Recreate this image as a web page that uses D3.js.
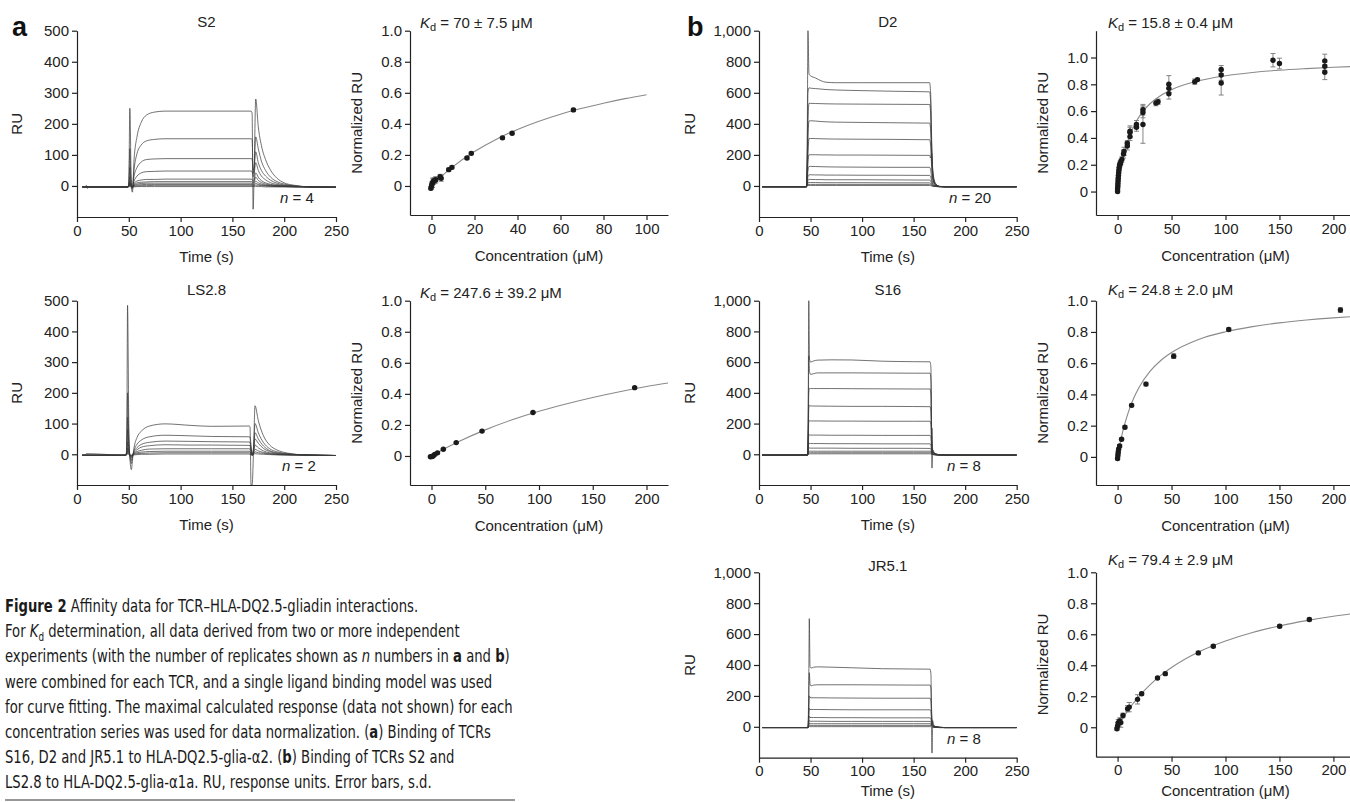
<!DOCTYPE html>
<html><head><meta charset="utf-8">
<script src="https://cdn.jsdelivr.net/npm/d3@7"></script>
<style>
body{margin:0;background:#fff;}
svg{display:block;font-family:"Liberation Sans",Arial,Helvetica,sans-serif;}
.axis .domain,.axis line{stroke:#222;stroke-width:1.2;}
.axis text{font-size:15px;fill:#222;font-family:"Liberation Sans",Arial,sans-serif;}
</style></head><body>
<svg id="fig" width="1350" height="802"></svg>
<script>
// ---------------- DATA ----------------
// Sensorgram panels: time grid (s) and RU traces
const timesS2 = [5, 8, 9, 10, 11, 49, 50, 51, 52.5, 53.5, 55, 58, 62, 67, 75, 85, 168, 169, 170, 171, 172.5, 175, 178, 182, 187, 193, 200, 210, 225, 250];
const tracesS2 = [
  [-3,-3,2,-8,-3,-3,10,250,-5,-20,80,160,205,228,238,241,241,235,-75,40,280,190,130,85,50,25,10,2,-3,-4],
  [-3,-3,-3,-3,-3,-3,0,120,-3,-10,50,105,132,145,150,152,152,150,40,60,158,120,80,50,28,14,6,0,-3,-4],
  [-3,-3,-3,-3,-3,-3,0,60,0,-5,30,60,77,85,87,88,88,87,50,60,110,75,50,32,18,9,3,0,-3,-4],
  [-3,-3,-3,-3,-3,-3,0,30,0,-3,15,32,42,46,47,48,48,47,30,40,75,50,32,20,10,5,1,-1,-3,-4],
  [-3,-3,-3,-3,-3,-3,0,15,0,-3,8,16,19,21,21,22,22,21,15,20,42,28,17,10,5,2,0,-2,-3,-4],
  [-3,-3,-3,-3,-3,-3,0,10,0,-3,5,10,12,13,14,14,14,13,10,13,28,18,11,6,3,1,-1,-2,-3,-4],
  [-3,-3,-3,-3,-3,-3,0,6,0,-3,3,6,8,9,9,9,9,8,6,8,15,10,6,3,1,0,-1,-2,-3,-4],
  [-3,-3,-3,-3,-3,-3,-1,3,-1,-3,1,3,4,5,5,5,5,4,3,4,8,5,3,1,0,-1,-2,-3,-3,-4],
  [-3,-3,-3,-3,-3,-3,-2,0,-2,-3,-1,0,1,1,2,2,2,1,0,1,3,2,1,0,-1,-2,-2,-3,-3,-4],
  [-3,-3,-3,-3,-3,-3,-3,-2,-3,-4,-3,-2,-2,-2,-2,-2,-2,-2,-3,-2,-1,-2,-2,-3,-3,-3,-3,-3,-3,-4]
];

const timesLS = [5, 8, 9, 47, 48, 48.8, 50, 51, 52.5, 53.5, 55, 58, 62, 70, 85, 110, 130, 166, 167, 168, 169, 170.8, 171.8, 175, 180, 186, 193, 203, 220, 250];
const tracesLS = [
  [-3,-3,2,-3,20,485,100,-10,-50,-20,20,55,75,92,99,94,91,92,90,-100,-100,60,158,110,60,30,14,4,-2,-4],
  [-3,-3,-3,-3,10,200,50,-5,-30,-10,12,33,46,57,62,60,58,57,56,30,-5,40,100,70,38,18,8,2,-2,-4],
  [-3,-3,-3,-3,5,120,30,-3,-20,-6,8,22,32,39,43,42,41,40,39,20,0,28,70,50,27,12,5,1,-2,-4],
  [-3,-3,-3,-3,3,80,20,-3,-12,-4,5,15,23,28,31,30,30,29,28,15,0,20,50,36,19,9,3,0,-2,-4],
  [-3,-3,-3,-3,2,40,10,-3,-8,-3,3,9,13,17,18,18,18,18,17,9,-1,12,30,21,11,5,1,-1,-2,-4],
  [-3,-3,-3,-3,0,20,5,-3,-5,-3,1,5,7,9,10,10,10,10,9,5,-2,6,16,11,6,2,0,-1,-3,-4],
  [-3,-3,-3,-3,-1,10,2,-3,-4,-3,0,2,3,4,5,5,5,5,4,2,-2,3,8,5,3,1,-1,-2,-3,-4],
  [-3,-3,-3,-3,-2,3,0,-3,-3,-3,-2,-1,0,0,1,1,1,1,0,-1,-3,0,2,1,0,-1,-2,-3,-3,-4]
];

const timesD2 = [3, 46, 46.8, 47.5, 48.5, 50, 55, 60, 65, 75, 100, 130, 160, 165.5, 166.5, 167.5, 168.5, 170, 172, 175, 180, 250];
const tracesD2 = [
  [-5,-5,300,1000,720,710,695,678,668,665,665,665,665,665,600,300,110,40,10,-3,-5,-5],
  [-5,-5,200,600,632,630,627,624,621,618,614,610,607,606,540,250,90,30,8,-3,-5,-5],
  [-5,-5,150,400,532,532,531,530,529,528,527,526,525,525,470,210,75,25,6,-3,-5,-5],
  [-5,-5,100,300,418,420,418,415,413,411,409,407,405,405,360,170,60,20,5,-3,-5,-5],
  [-5,-5,80,200,305,306,305,304,303,302,301,300,298,298,260,120,45,15,4,-3,-5,-5],
  [-5,-5,50,150,200,201,201,200,200,199,199,198,197,197,180,210,100,15,3,-4,-5,-5],
  [-5,-5,30,100,125,126,125,124,123,122,121,120,120,120,105,55,20,6,1,-4,-5,-5],
  [-5,-5,20,60,72,72,71,71,70,70,69,69,68,68,60,30,12,3,0,-4,-5,-5],
  [-5,-5,10,35,42,42,41,41,40,40,40,39,38,38,33,16,6,1,-2,-4,-5,-5],
  [-5,-5,5,20,22,22,22,21,21,21,21,20,20,20,17,8,2,-1,-3,-4,-5,-5],
  [-5,-5,2,10,10,10,10,10,10,10,10,10,10,10,8,3,0,-2,-4,-5,-5,-5],
  [-5,-5,0,4,3,3,3,3,3,3,3,3,3,3,2,0,-2,-3,-4,-5,-5,-5]
];

const timesS16 = [3, 47, 47.8, 48.3, 49, 50, 53, 57, 70, 90, 120, 150, 166, 166.8, 167.3, 167.8, 168.5, 170, 172, 175, 180, 250];
const tracesS16 = [
  [-5,-5,400,1000,620,600,608,613,615,614,606,603,602,560,250,-90,30,10,2,-3,-5,-5],
  [-5,-5,200,640,540,520,525,530,530,530,529,528,528,480,220,70,25,8,1,-3,-5,-5],
  [-5,-5,150,400,430,428,428,428,428,427,426,425,425,390,180,60,20,6,1,-3,-5,-5],
  [-5,-5,100,300,318,315,314,314,313,312,312,311,310,280,130,170,20,5,0,-3,-5,-5],
  [-5,-5,80,220,218,217,217,217,216,216,215,215,215,195,90,35,12,3,-1,-4,-5,-5],
  [-5,-5,50,130,125,125,125,125,124,124,123,123,123,110,50,20,7,2,-2,-4,-5,-5],
  [-5,-5,30,75,70,70,70,70,69,69,68,68,68,60,28,11,4,0,-3,-4,-5,-5],
  [-5,-5,15,45,40,40,40,40,40,39,39,39,38,34,16,6,2,-1,-3,-4,-5,-5],
  [-5,-5,8,22,20,20,20,20,20,20,20,20,20,18,8,3,0,-2,-4,-5,-5,-5],
  [-5,-5,3,10,10,10,10,10,10,10,10,10,10,9,4,1,-1,-3,-4,-5,-5,-5],
  [-5,-5,0,3,3,3,3,3,3,3,3,3,3,2,0,-1,-2,-3,-4,-5,-5,-5]
];

const timesJR = [3, 47.5, 48.3, 48.8, 49.5, 50.5, 53, 57, 70, 90, 120, 150, 166, 166.8, 167.3, 167.8, 168.5, 170, 172, 175, 180, 250];
const tracesJR = [
  [-5,-5,300,700,390,380,386,388,386,382,376,374,373,340,150,50,20,6,1,-3,-5,-5],
  [-5,-5,150,350,280,265,270,272,272,272,271,270,270,245,110,35,12,4,0,-3,-5,-5],
  [-5,-5,100,200,190,188,188,188,187,186,185,185,185,165,75,25,9,3,0,-3,-5,-5],
  [-5,-5,60,120,112,112,112,112,111,110,110,110,110,100,45,15,5,1,-1,-4,-5,-5],
  [-5,-5,30,70,60,60,60,60,59,59,58,58,58,52,24,8,40,0,-2,-4,-5,-5],
  [-5,-5,20,40,36,36,36,36,35,35,35,35,35,31,14,5,1,-1,-3,-4,-5,-5],
  [-5,-5,10,22,20,20,20,20,20,20,20,20,20,18,8,3,0,-2,-4,-5,-5,-5],
  [-5,-5,5,10,9,9,9,9,9,9,9,9,9,8,4,1,-1,-3,-4,-5,-5,-5],
  [-5,-5,0,2,1,1,1,1,1,1,1,1,1,1,0,-170,-2,-3,-4,-5,-5,-5]
];

// Binding panels: [concentration µM, normalized RU, s.d.]
const pointsS2 = [[-0.3,-0.015,0.01],[0,0.0,0.02],[0.2,0.01,0.02],[0.5,0.02,0.03],[0.8,0.03,0.02],[1.5,0.035,0.02],[2,0.04,0.02],[4,0.06,0.015],[4.5,0.05,0.02],[8,0.105,0.01],[9.5,0.12,0.01],[16.5,0.18,0.01],[18.5,0.21,0.01],[33,0.31,0.01],[37.5,0.34,0.01],[66,0.49,0.01]];
const fitS2 = [[0,0],[5,0.0667],[10,0.125],[20,0.222],[30,0.3],[40,0.364],[50,0.417],[60,0.462],[70,0.5],[80,0.533],[90,0.5625],[100,0.588]];

const pointsLS = [[-1,-0.005,0.005],[0.5,-0.003,0.005],[1.5,0.0,0.005],[3,0.01,0.005],[5.6,0.02,0.005],[11,0.043,0.005],[23,0.086,0.005],[47,0.16,0.005],[94.4,0.28,0.005],[189,0.44,0.005]];
const fitLS = [[0,0],[10,0.039],[25,0.0917],[50,0.168],[75,0.233],[100,0.288],[125,0.335],[150,0.377],[175,0.414],[200,0.447],[220,0.47]];

const pointsD2 = [[0,0.0,0.01],[0,0.02,0.01],[0.2,0.04,0.01],[0.3,0.06,0.015],[0.5,0.08,0.02],[0.6,0.1,0.02],[0.8,0.12,0.02],[1,0.14,0.02],[1.2,0.16,0.02],[1.5,0.18,0.02],[2,0.2,0.02],[2.5,0.21,0.02],[3,0.22,0.02],[4,0.24,0.02],[5.5,0.28,0.03],[6,0.3,0.03],[9,0.34,0.03],[9,0.36,0.02],[11.5,0.41,0.03],[11.5,0.44,0.04],[11.5,0.45,0.04],[17.5,0.48,0.03],[17.5,0.5,0.03],[23.5,0.5,0.14],[23.5,0.59,0.04],[23.5,0.61,0.04],[35.5,0.66,0.02],[37.5,0.67,0.02],[47.5,0.73,0.04],[47.5,0.77,0.03],[47.5,0.8,0.065],[71.5,0.82,0.02],[74,0.835,0.01],[96,0.81,0.09],[96,0.87,0.04],[96,0.91,0.03],[144,0.98,0.05],[150,0.955,0.04],[192,0.89,0.055],[192,0.935,0.03],[192,0.975,0.05]];
const fitD2 = [[0,0],[1,0.0595],[2,0.112],[4,0.202],[6,0.275],[8,0.336],[10,0.388],[15,0.487],[20,0.559],[30,0.655],[40,0.717],[50,0.76],[75,0.826],[100,0.864],[125,0.888],[150,0.905],[175,0.917],[200,0.927],[220,0.933]];

const pointsS16 = [[0,-0.01,0.01],[0.3,0.01,0.01],[0.6,0.03,0.01],[1,0.05,0.01],[1.9,0.07,0.01],[3.7,0.113,0.01],[6.8,0.19,0.01],[13,0.33,0.01],[26.3,0.466,0.012],[52,0.645,0.015],[103,0.816,0.01],[206.5,0.94,0.015]];
const fitS16 = [[0,0],[2,0.0746],[4,0.139],[6,0.195],[10,0.287],[15,0.377],[20,0.446],[30,0.547],[40,0.617],[50,0.668],[75,0.752],[100,0.801],[125,0.834],[150,0.858],[175,0.876],[200,0.89],[220,0.899]];

const pointsJR = [[-0.6,-0.01,0.01],[0,0.01,0.02],[0.6,0.03,0.02],[1.9,0.04,0.02],[3,0.03,0.03],[5,0.076,0.015],[9.3,0.12,0.02],[10.8,0.13,0.03],[18.5,0.18,0.03],[22.3,0.216,0.01],[37,0.318,0.01],[44.2,0.346,0.01],[74.8,0.48,0.01],[88.7,0.523,0.01],[150.2,0.652,0.01],[177.7,0.695,0.01]];
const fitJR = [[0,0],[5,0.059],[10,0.112],[20,0.201],[30,0.274],[40,0.335],[50,0.386],[75,0.486],[100,0.557],[125,0.612],[150,0.654],[175,0.688],[200,0.716],[220,0.735]];

// Tick labels
const timeTicks = [0, 50, 100, 150, 200, 250];
const ruTicksSmall = [0, 100, 200, 300, 400, 500];
const ruTicksLarge = [0, 200, 400, 600, 800, 1000];
const normTicks = [0, 0.2, 0.4, 0.6, 0.8, 1.0];
const concTicksS2 = [0, 20, 40, 60, 80, 100];
const concTicks = [0, 50, 100, 150, 200];

const captionLines = [
  [["Figure 2", "b"], ["  Affinity data for TCR\u2013HLA-DQ2.5-gliadin interactions.", ""]],
  [["For ", ""], ["K", "i"], ["d", "sub"], [" determination, all data derived from two or more independent", ""]],
  [["experiments (with the number of replicates shown as ", ""], ["n", "i"], [" numbers in ", ""], ["a", "b"], [" and ", ""], ["b", "b"], [")", ""]],
  [["were combined for each TCR, and a single ligand binding model was used", ""]],
  [["for curve fitting. The maximal calculated response (data not shown) for each", ""]],
  [["concentration series was used for data normalization. (", ""], ["a", "b"], [") Binding of TCRs", ""]],
  [["S16, D2 and JR5.1 to HLA-DQ2.5-glia-\u03b12. (", ""], ["b", "b"], [") Binding of TCRs S2 and", ""]],
  [["LS2.8 to HLA-DQ2.5-glia-\u03b11a. RU, response units. Error bars, s.d.", ""]]
];

// ---------------- DRAWING ----------------
const svg = d3.select("#fig");
const FS = 15;
let clipId = 0;

function fmtNorm(d){ return d === 0 ? "0" : d3.format(".1f")(d); }

function styleAxis(g){
  g.attr("class","axis");
  g.selectAll("text").attr("fill","#222");
}

function sensorPanel(cfg, times, traces){
  const x = d3.scaleLinear().domain([0,250]).range([cfg.left, cfg.right]);
  const y = d3.scaleLinear().domain(cfg.yDomain).range([cfg.bottom, cfg.top]);
  const id = "clip" + (clipId++);
  svg.append("clipPath").attr("id", id).append("rect")
    .attr("x", cfg.left).attr("y", cfg.top - 1)
    .attr("width", cfg.right - cfg.left).attr("height", cfg.bottom - cfg.top + 1);
  const line = d3.line().x((d,i)=>x(times[i])).y(d=>y(d)).curve(d3.curveMonotoneX);
  const g = svg.append("g").attr("clip-path", `url(#${id})`);
  g.selectAll("path").data(traces).join("path")
    .attr("d", line).attr("fill","none")
    .attr("stroke","#3a3a3a").attr("stroke-width",0.85).attr("stroke-opacity",0.85);
  svg.append("g").attr("transform",`translate(0,${cfg.bottom})`)
    .call(d3.axisBottom(x).tickValues(timeTicks).tickSize(5).tickSizeOuter(0).tickPadding(3))
    .call(styleAxis);
  svg.append("g").attr("transform",`translate(${cfg.left},0)`)
    .call(d3.axisLeft(y).tickValues(cfg.yTicks).tickFormat(d3.format(",")).tickSize(5).tickSizeOuter(0).tickPadding(3))
    .call(styleAxis);
  svg.append("text").attr("x",(cfg.left+cfg.right)/2).attr("y",cfg.titleY)
    .attr("text-anchor","middle").attr("font-size",FS).attr("fill","#222").text(cfg.title);
  svg.append("text").attr("x",(cfg.left+cfg.right)/2).attr("y",Math.min(cfg.bottom+45, 796))
    .attr("text-anchor","middle").attr("font-size",FS).attr("fill","#222").text("Time (s)");
  svg.append("text").attr("transform",`translate(${cfg.left-cfg.ruOff},${(cfg.top+cfg.bottom)/2}) rotate(-90)`)
    .attr("text-anchor","middle").attr("font-size",FS).attr("fill","#222").text("RU");
  const nt = svg.append("text").attr("x",cfg.nX).attr("y",y(0)+17).attr("font-size",FS).attr("fill","#222");
  nt.append("tspan").attr("font-style","italic").text("n");
  nt.append("tspan").text(" = " + cfg.n);
}

function bindingPanel(cfg, points, fit){
  const x = d3.scaleLinear().domain(cfg.xDomain).range([cfg.left, cfg.right]);
  const y = d3.scaleLinear().domain(cfg.yDomain).range([cfg.bottom, cfg.top]);
  svg.append("path").datum(fit)
    .attr("d", d3.line().x(d=>x(d[0])).y(d=>y(d[1])).curve(d3.curveMonotoneX))
    .attr("fill","none").attr("stroke","#8a8a8a").attr("stroke-width",1.1);
  const eb = svg.append("g").attr("stroke","#777").attr("stroke-width",0.9);
  points.forEach(p=>{
    const cx = x(p[0]), y1 = y(p[1]-p[2]), y2 = y(p[1]+p[2]);
    eb.append("line").attr("x1",cx).attr("x2",cx).attr("y1",y1).attr("y2",y2);
    eb.append("line").attr("x1",cx-2.5).attr("x2",cx+2.5).attr("y1",y1).attr("y2",y1);
    eb.append("line").attr("x1",cx-2.5).attr("x2",cx+2.5).attr("y1",y2).attr("y2",y2);
  });
  svg.append("g").selectAll("circle").data(points).join("circle")
    .attr("cx",d=>x(d[0])).attr("cy",d=>y(d[1])).attr("r",2.7).attr("fill","#1a1a1a");
  svg.append("g").attr("transform",`translate(0,${cfg.bottom})`)
    .call(d3.axisBottom(x).tickValues(cfg.xTicks).tickSize(5).tickSizeOuter(0).tickPadding(3))
    .call(styleAxis);
  svg.append("g").attr("transform",`translate(${cfg.left},0)`)
    .call(d3.axisLeft(y).tickValues(normTicks).tickFormat(fmtNorm).tickSize(5).tickSizeOuter(0).tickPadding(3))
    .call(styleAxis);
  svg.append("text").attr("x",(cfg.left+cfg.right)/2).attr("y",Math.min(cfg.bottom+46, 796))
    .attr("text-anchor","middle").attr("font-size",FS).attr("fill","#222").text("Concentration (\u03bcM)");
  svg.append("text").attr("transform",`translate(${cfg.left-48},${(cfg.top+cfg.bottom)/2}) rotate(-90)`)
    .attr("text-anchor","middle").attr("font-size",FS).attr("fill","#222").text("Normalized RU");
  const kt = svg.append("text").attr("x",cfg.kdX).attr("y",cfg.kdY).attr("font-size",FS).attr("fill","#222");
  kt.append("tspan").attr("font-style","italic").text("K");
  kt.append("tspan").attr("font-size",11).attr("dy",3).text("d");
  kt.append("tspan").attr("dy",-3).text(" = " + cfg.kd + " \u03bcM");
}

// Layout
sensorPanel({left:77,right:336,top:30.7,bottom:217,yDomain:[-100,500],yTicks:ruTicksSmall,title:"S2",titleY:27,ruOff:55,nX:280,n:"4"}, timesS2, tracesS2);
sensorPanel({left:77,right:336,top:300.7,bottom:485,yDomain:[-100,500],yTicks:ruTicksSmall,title:"LS2.8",titleY:295,ruOff:55,nX:282,n:"2"}, timesLS, tracesLS);
sensorPanel({left:759,right:1016.7,top:30.7,bottom:217,yDomain:[-200,1000],yTicks:ruTicksLarge,title:"D2",titleY:27,ruOff:64,nX:949,n:"20"}, timesD2, tracesD2);
sensorPanel({left:759,right:1016.7,top:300.7,bottom:485,yDomain:[-200,1000],yTicks:ruTicksLarge,title:"S16",titleY:295,ruOff:64,nX:947,n:"8"}, timesS16, tracesS16);
sensorPanel({left:759,right:1016.7,top:572.3,bottom:757.7,yDomain:[-200,1000],yTicks:ruTicksLarge,title:"JR5.1",titleY:571,ruOff:64,nX:947,n:"8"}, timesJR, tracesJR);

bindingPanel({left:410,right:668,top:30.7,bottom:215,xDomain:[-10,110],yDomain:[-0.187,1],xTicks:concTicksS2,kd:"70 \u00b1 7.5",kdX:420,kdY:28}, pointsS2, fitS2);
bindingPanel({left:410,right:668,top:300.7,bottom:485,xDomain:[-20,220],yDomain:[-0.187,1],xTicks:concTicks,kd:"247.6 \u00b1 39.2",kdX:420,kdY:298}, pointsLS, fitLS);
bindingPanel({left:1096,right:1355,top:30.7,bottom:215,xDomain:[-20,220],yDomain:[-0.175,1.2],xTicks:concTicks,kd:"15.8 \u00b1 0.4",kdX:1108,kdY:28}, pointsD2, fitD2);
bindingPanel({left:1096,right:1355,top:300.7,bottom:485,xDomain:[-20,220],yDomain:[-0.18,1],xTicks:concTicks,kd:"24.8 \u00b1 2.0",kdX:1108,kdY:295}, pointsS16, fitS16);
bindingPanel({left:1096,right:1355,top:572.3,bottom:756.7,xDomain:[-20,220],yDomain:[-0.19,1],xTicks:concTicks,kd:"79.4 \u00b1 2.9",kdX:1108,kdY:565}, pointsJR, fitJR);

// panel letters
svg.append("text").attr("x",12).attr("y",36).attr("font-size",27).attr("font-weight","bold").attr("fill","#111").text("a");
svg.append("text").attr("x",687).attr("y",36).attr("font-size",27).attr("font-weight","bold").attr("fill","#111").text("b");

// caption
const cap = svg.append("g").attr("transform","translate(5,0)");
const capInner = cap.append("g");
captionLines.forEach((ln,i)=>{
  const t = capInner.append("text").attr("x",0).attr("y",612 + i*25.2)
    .attr("font-size",18).attr("fill","#1a1a1a")
    .attr("font-family","'Liberation Sans Narrow','DejaVu Sans Condensed','Liberation Sans',sans-serif");
  let prevSub = false;
  ln.forEach(seg=>{
    const s = t.append("tspan").text(seg[0]);
    if (seg[1]==="b") s.attr("font-weight","bold");
    if (seg[1]==="i") s.attr("font-style","italic");
    if (seg[1]==="sub") { s.attr("font-size",12).attr("dy",4); }
    else if (prevSub) s.attr("dy",-4);
    prevSub = seg[1]==="sub";
  });
});
const widths = capInner.selectAll("text").nodes().map(n=>n.getComputedTextLength());
const sx = 508 / widths[4];
capInner.attr("transform",`scale(${sx},1)`);
svg.append("line").attr("x1",5).attr("x2",515).attr("y1",800).attr("y2",800).attr("stroke","#333").attr("stroke-width",1.2);
</script>
</body></html>
